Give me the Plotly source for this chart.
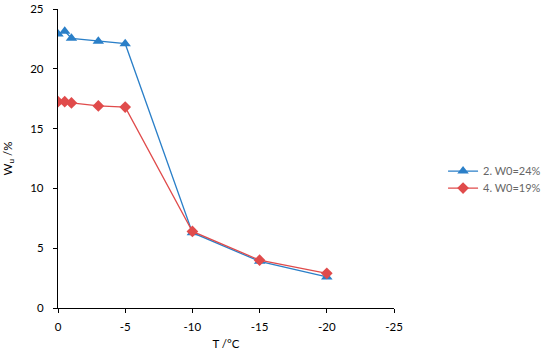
import plotly.graph_objects as go

T = [0, -0.5, -1, -3, -5, -10, -15, -20]
w24 = [22.9, 23.15, 22.55, 22.3, 22.1, 6.3, 3.9, 2.6]
w19 = [17.25, 17.25, 17.15, 16.9, 16.8, 6.4, 4.0, 2.9]
names = ["2. W0=24%", "4. W0=19%"]
x_ticks = [0, -5, -10, -15, -20, -25]
y_ticks = [0, 5, 10, 15, 20, 25]

fig = go.Figure()
fig.add_trace(go.Scatter(x=T, y=w24, name=names[0], mode="lines+markers",
                         line=dict(color="#2A7FC8", width=1.3), legend="legend",
                         marker=dict(symbol="triangle-up", size=10, color="#2A7FC8")))
fig.add_trace(go.Scatter(x=T, y=w19, name=names[1], mode="lines+markers",
                         line=dict(color="#E04B4B", width=1.3), legend="legend2",
                         marker=dict(symbol="diamond", size=9, color="#E04B4B")))

font = "Lato, Open Sans, Liberation Sans, sans-serif"
leg = dict(x=1.146, xanchor="left", yanchor="middle",
           font=dict(size=11, color="#666666"), bgcolor="rgba(0,0,0,0)")
fig.update_layout(
    width=550, height=355,
    margin=dict(l=58, r=156, t=9, b=47, autoexpand=False),
    plot_bgcolor="white", paper_bgcolor="white",
    font=dict(family=font, size=11.5, color="black"),
    showlegend=True,
    legend=dict(leg, y=0.458),
    legend2=dict(leg, y=0.401),
    xaxis=dict(range=[0, -25], tickvals=x_ticks, ticktext=[str(v) for v in x_ticks],
               showgrid=False, zeroline=False, showline=True, linecolor="black",
               linewidth=1.3, ticks="outside", ticklen=4, tickcolor="black",
               automargin=False, ticklabelstandoff=4, ticklabeloverflow="allow",
               title=dict(text="T /°C", font=dict(size=11.5), standoff=7)),
    yaxis=dict(range=[0, 25], tickvals=y_ticks, showgrid=False, zeroline=False,
               showline=True, linecolor="black", linewidth=1.3, ticks="outside",
               ticklen=4, tickcolor="black", automargin=False, ticklabelstandoff=7,
               ticklabeloverflow="allow",
               title=dict(text="W<sub>u</sub> /%", font=dict(size=11.5), standoff=15)),
)
fig.write_html("out.html", config={"displayModeBar": False},
               post_script="document.body.style.margin='0';document.body.style.overflow='hidden';")
